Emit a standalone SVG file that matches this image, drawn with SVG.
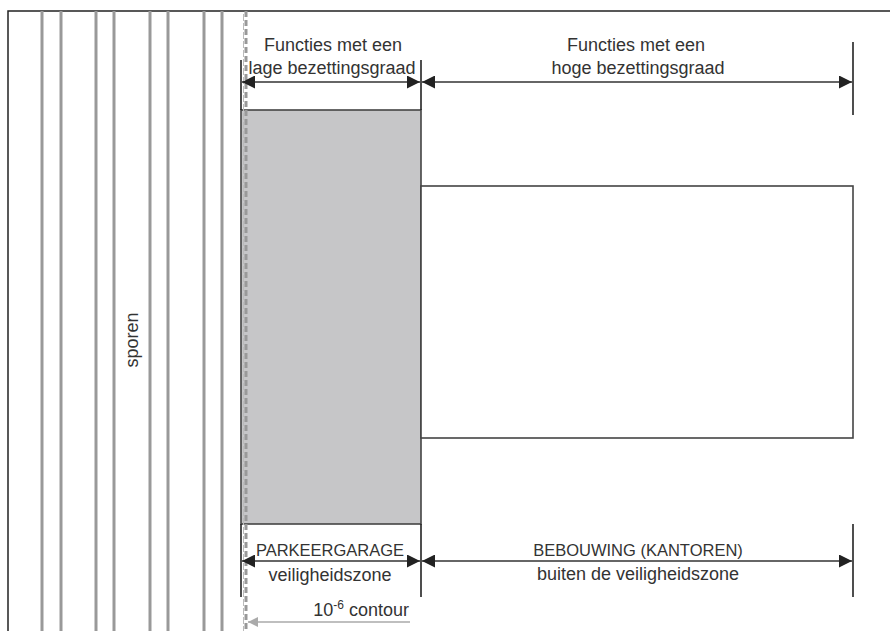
<svg xmlns="http://www.w3.org/2000/svg" width="890" height="631" viewBox="0 0 890 631">
<defs>
<marker id="ah" viewBox="0 0 10 10" refX="10" refY="5" markerWidth="16" markerHeight="13" markerUnits="userSpaceOnUse" orient="auto-start-reverse">
<path d="M0,0 L10,5 L0,10 z" fill="#222"/>
</marker>
<marker id="ahg" viewBox="0 0 10 10" refX="10" refY="5" markerWidth="13" markerHeight="10" markerUnits="userSpaceOnUse" orient="auto-start-reverse">
<path d="M0,0 L10,5 L0,10 z" fill="#aaa"/>
</marker>
</defs>
<style>
.t{font-family:"Liberation Sans",Arial,sans-serif;font-size:18px;fill:#333;text-anchor:middle}
.u{font-size:16.5px}
.track{stroke:#999;stroke-width:3}
.dim{stroke:#333;stroke-width:1.6;fill:none}
.tick{stroke:#222;stroke-width:1.6}
</style>
<rect width="890" height="631" fill="#fff"/>
<path d="M8,631 V11 H890" fill="none" stroke="#222" stroke-width="1.5"/>
<g id="sporen">
<line class="track" x1="42" y1="11" x2="42" y2="631"/>
<line class="track" x1="61" y1="11" x2="61" y2="631"/>
<line class="track" x1="96" y1="11" x2="96" y2="631"/>
<line class="track" x1="114" y1="11" x2="114" y2="631"/>
<line class="track" x1="150" y1="11" x2="150" y2="631"/>
<line class="track" x1="168" y1="11" x2="168" y2="631"/>
<line class="track" x1="204" y1="11" x2="204" y2="631"/>
<line class="track" x1="222" y1="11" x2="222" y2="631"/>
<text class="t" transform="translate(138,340) rotate(-90)">sporen</text>
</g>
<g id="parkeergarage">
<rect x="241" y="110" width="180" height="414" fill="#c6c6c8" stroke="#444" stroke-width="1.6"/>
</g>
<g id="contour">
<line x1="246" y1="11" x2="246" y2="631" stroke="#999" stroke-width="3" stroke-dasharray="6 3"/>
<line x1="243.5" y1="14" x2="243.5" y2="631" stroke="#bbb" stroke-width="1" stroke-dasharray="7 2"/>
</g>
<g id="bebouwing">
<rect x="421" y="186" width="432" height="252" fill="#fff" stroke="#444" stroke-width="1.6"/>
</g>
<g id="connectors">
<line class="tick" x1="241" y1="60" x2="241" y2="110"/>
<line class="tick" x1="421" y1="60" x2="421" y2="110"/>
<line class="tick" x1="853" y1="42" x2="853" y2="115"/>
<line class="dim" x1="242" y1="82" x2="420" y2="82" marker-start="url(#ah)" marker-end="url(#ah)"/>
<line class="dim" x1="422" y1="82" x2="852" y2="82" marker-start="url(#ah)" marker-end="url(#ah)"/>
<line class="tick" x1="241" y1="524" x2="241" y2="597"/>
<line class="tick" x1="421" y1="524" x2="421" y2="597"/>
<line class="tick" x1="853" y1="524" x2="853" y2="597"/>
<line class="dim" x1="242" y1="561" x2="420" y2="561" marker-start="url(#ah)" marker-end="url(#ah)"/>
<line class="dim" x1="422" y1="561" x2="852" y2="561" marker-start="url(#ah)" marker-end="url(#ah)"/>
<line x1="410" y1="622" x2="248" y2="622" stroke="#aaa" stroke-width="1.6" marker-end="url(#ahg)"/>
</g>
<g id="labels">
<text class="t" x="333" y="51">Functies met een</text>
<text class="t" x="332" y="74">lage bezettingsgraad</text>
<text class="t" x="636" y="51">Functies met een</text>
<text class="t" x="638" y="74">hoge bezettingsgraad</text>
<text class="t u" x="330" y="556">PARKEERGARAGE</text>
<text class="t" x="330" y="581">veiligheidszone</text>
<text class="t u" x="638" y="556">BEBOUWING (KANTOREN)</text>
<text class="t" x="638" y="580">buiten de veiligheidszone</text>
<text class="t" x="409" y="616" style="text-anchor:end">10<tspan dy="-7" font-size="12">-6</tspan><tspan dy="7"> contour</tspan></text>
</g>
</svg>
